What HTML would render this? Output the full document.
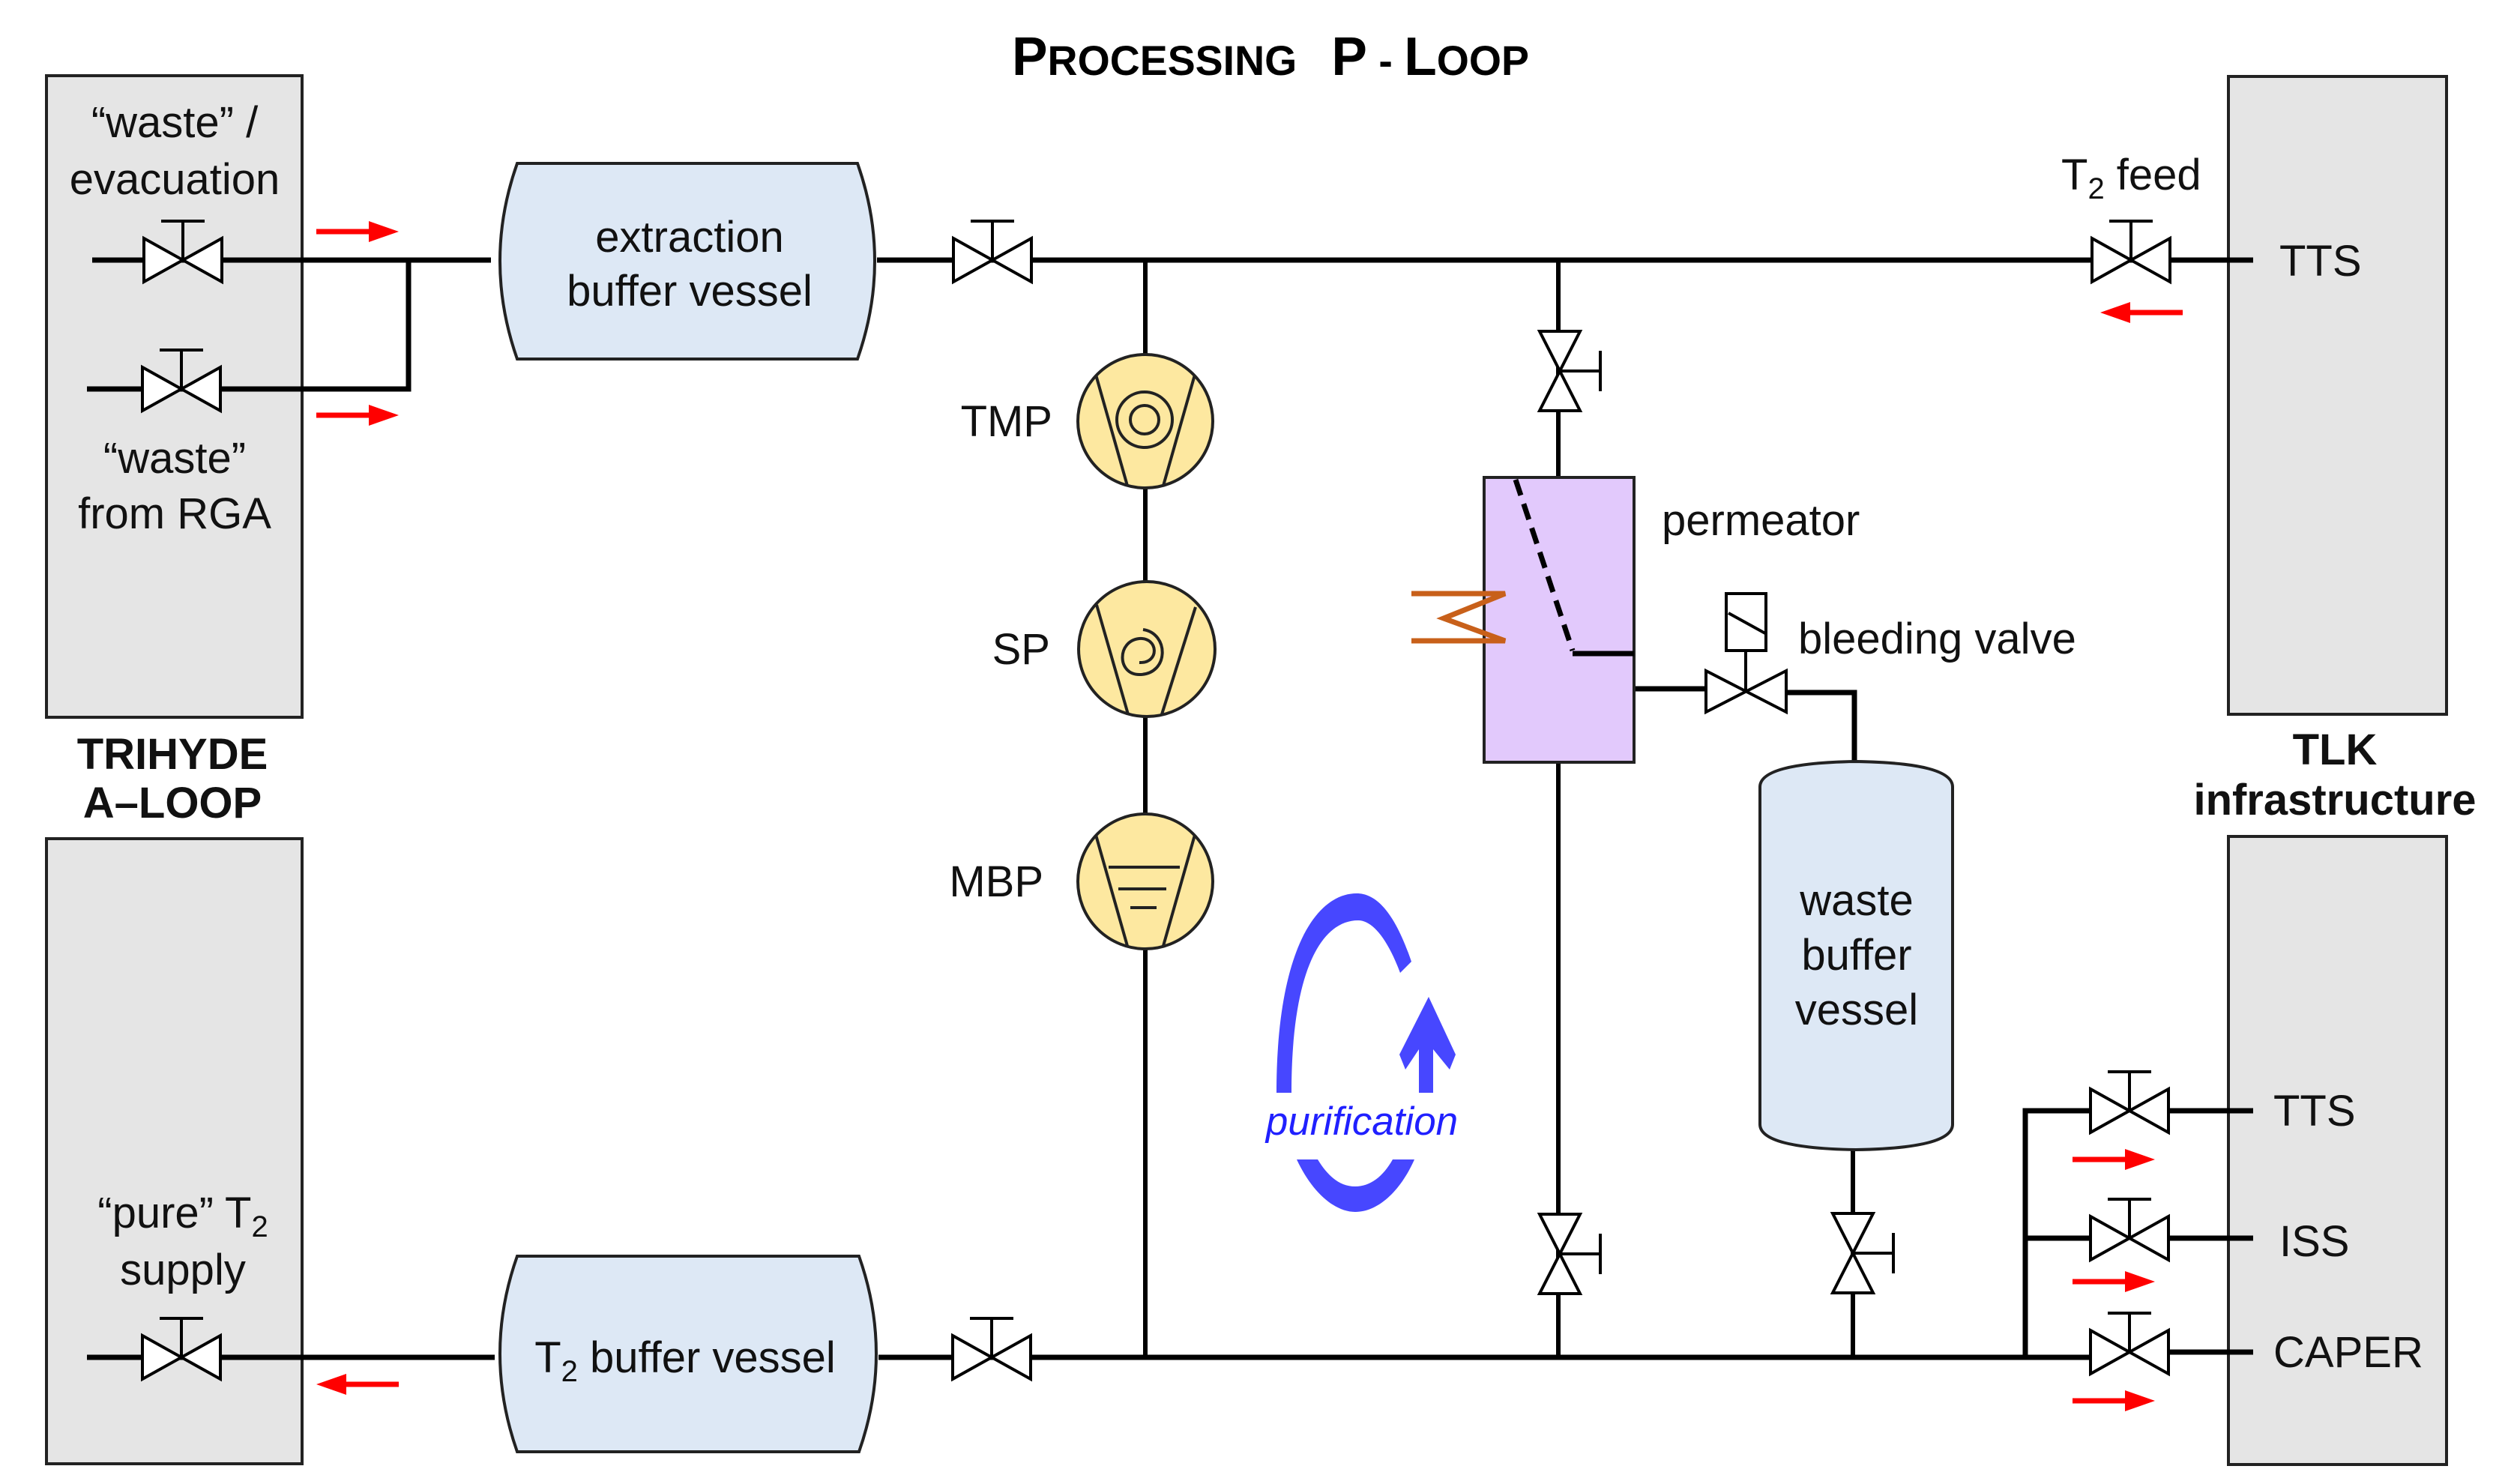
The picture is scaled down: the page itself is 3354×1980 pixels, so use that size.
<!DOCTYPE html>
<html><head><meta charset="utf-8"><style>html,body{margin:0;padding:0;background:#fff}svg{display:block}</style></head>
<body>
<svg width="3354" height="1980" viewBox="0 0 3354 1980" xmlns="http://www.w3.org/2000/svg" font-family="Liberation Sans, Arial, sans-serif">
<defs>
<g id="vh" fill="#fff" stroke="#000" stroke-width="4">
<path d="M-52,-29 L52,29 L52,-29 L-52,29 Z" stroke-linejoin="miter"/>
<line x1="0" y1="0" x2="0" y2="-52"/>
<line x1="-29" y1="-52" x2="29" y2="-52"/>
</g>
<g id="vv" fill="#fff" stroke="#000" stroke-width="4">
<path d="M-27,-53 L27,-53 L-27,53 L27,53 Z"/>
<line x1="0" y1="0" x2="54" y2="0"/>
<line x1="54" y1="-27" x2="54" y2="27"/>
</g>
<g id="arr"><line x1="-55" y1="0" x2="25" y2="0" stroke="#f00" stroke-width="7"/><path d="M15,-14 L55,0 L15,14 Z" fill="#f00"/></g>
</defs>

<rect x="62" y="101" width="341" height="856" fill="#e5e5e5" stroke="#222" stroke-width="4"/>
<rect x="62" y="1119" width="341" height="834" fill="#e5e5e5" stroke="#222" stroke-width="4"/>
<rect x="2973" y="102" width="291" height="851" fill="#e5e5e5" stroke="#222" stroke-width="4"/>
<rect x="2973" y="1116" width="291" height="838" fill="#e5e5e5" stroke="#222" stroke-width="4"/>

<text x="1350" y="100" font-weight="bold" font-size="56" textLength="690" lengthAdjust="spacingAndGlyphs" xml:space="preserve"><tspan font-size="72">P</tspan>ROCESSING   <tspan font-size="72">P</tspan> - <tspan font-size="72">L</tspan>OOP</text>

<g stroke="#000" stroke-width="7" fill="none">
<line x1="123" y1="347" x2="655" y2="347"/>
<polyline points="116,519 545,519 545,347"/>
<line x1="1170" y1="347" x2="3006" y2="347"/>
<line x1="116" y1="1811" x2="660" y2="1811"/>
<line x1="1172" y1="1811" x2="2795" y2="1811"/>
<polyline points="2795,1482 2702,1482 2702,1811"/>
<line x1="2702" y1="1652" x2="2795" y2="1652"/>
<line x1="2880" y1="1482" x2="3006" y2="1482"/>
<line x1="2880" y1="1652" x2="3006" y2="1652"/>
<line x1="2880" y1="1804" x2="3006" y2="1804"/>
<line x1="2180" y1="919" x2="2276" y2="919"/>
<polyline points="2383,924 2474,924 2474,1020"/>
</g>
<g stroke="#000" stroke-width="6" fill="none">
<line x1="1528" y1="347" x2="1528" y2="1811"/>
<line x1="2079" y1="347" x2="2079" y2="1811"/>
<line x1="2472" y1="1530" x2="2472" y2="1811"/>
</g>

<use href="#vh" x="244" y="347"/>
<use href="#vh" x="242" y="519"/>
<use href="#vh" x="1324" y="347"/>
<use href="#vh" x="2843" y="347"/>
<use href="#vh" x="242" y="1811"/>
<use href="#vh" x="1323" y="1811"/>
<use href="#vh" x="2841" y="1482"/>
<use href="#vh" x="2841" y="1652"/>
<use href="#vh" x="2841" y="1804"/>
<use href="#vv" x="2081" y="495"/>
<use href="#vv" x="2081" y="1673"/>
<use href="#vv" x="2472" y="1672"/>
<g fill="#fff" stroke="#000" stroke-width="4">
<path d="M2276,895 L2383,950 L2383,895 L2276,950 Z"/>
<line x1="2329" y1="922" x2="2329" y2="868"/>
<rect x="2303" y="792" width="53" height="76"/>
<line x1="2306" y1="818" x2="2355" y2="845"/>
</g>

<use href="#arr" x="477" y="309"/>
<use href="#arr" x="477" y="554"/>
<use href="#arr" x="477" y="1847" transform="rotate(180 477 1847)"/>
<use href="#arr" x="2857" y="417" transform="rotate(180 2857 417)"/>
<use href="#arr" x="2820" y="1547"/>
<use href="#arr" x="2820" y="1710"/>
<use href="#arr" x="2820" y="1869"/>

<path d="M690,218 L1144,218 Q1190,348 1144,479 L690,479 Q644,348 690,218 Z" fill="#dde8f5" stroke="#222" stroke-width="4"/>
<path d="M690,1676 L1146,1676 Q1192,1806 1146,1937 L690,1937 Q644,1806 690,1676 Z" fill="#dde8f5" stroke="#222" stroke-width="4"/>
<path d="M2348,1050 Q2348,1018 2476,1016 Q2605,1018 2605,1050 L2605,1500 Q2605,1532 2476,1534 Q2348,1532 2348,1500 Z" fill="#dde8f5" stroke="#222" stroke-width="4"/>

<rect x="1980" y="637" width="200" height="380" fill="#e2c9fc" stroke="#222" stroke-width="4"/>
<line x1="2022" y1="640" x2="2098" y2="868" stroke="#000" stroke-width="7" stroke-dasharray="22,12"/>
<line x1="2098" y1="872" x2="2180" y2="872" stroke="#000" stroke-width="7"/>
<polyline points="1883,792 2008,792 1926,825 2008,855 1883,855" fill="none" stroke="#c8601a" stroke-width="7"/>

<g stroke="#222" stroke-width="4">
<ellipse cx="1528" cy="562" rx="90" ry="89" fill="#fde8a0"/>
<ellipse cx="1530" cy="866" rx="91" ry="90" fill="#fde8a0"/>
<ellipse cx="1528" cy="1176" rx="90" ry="90" fill="#fde8a0"/>
</g>
<g stroke="#222" stroke-width="4" fill="none">
<line x1="1462" y1="500" x2="1504" y2="648"/><line x1="1594" y1="500" x2="1552" y2="648"/>
<circle cx="1527" cy="560" r="37"/><circle cx="1527" cy="560" r="19"/>
<line x1="1463" y1="807" x2="1505" y2="953"/><line x1="1595" y1="810" x2="1550" y2="953"/>
<path d="M1525,840 C1560,845 1560,900 1520,900 C1490,900 1490,855 1520,852 C1545,850 1548,885 1520,884"/>
<line x1="1462" y1="1114" x2="1504" y2="1262"/><line x1="1594" y1="1114" x2="1552" y2="1262"/>
<line x1="1479" y1="1157" x2="1574" y2="1157"/><line x1="1492" y1="1186" x2="1556" y2="1186"/><line x1="1508" y1="1211" x2="1543" y2="1211"/>
</g>

<path d="M1883,1283 C1860,1215 1835,1192 1810,1192 C1755,1192 1703,1270 1703,1458 L1723,1458 C1723,1290 1765,1228 1812,1228 C1830,1228 1850,1250 1868,1298 Z" fill="#4747ff"/>
<path d="M1730,1547 C1750,1590 1780,1617 1808,1617 C1838,1617 1868,1590 1887,1547 L1858,1547 C1845,1570 1828,1583 1808,1583 C1788,1583 1772,1570 1758,1547 Z" fill="#4747ff"/>
<path d="M1893,1458 L1893,1400 L1875,1427 L1867,1407 L1906,1330 L1942,1407 L1934,1427 L1912,1400 L1912,1458 Z" fill="#4747ff"/>
<text x="1817" y="1514" font-size="53" font-style="italic" fill="#2020ff" text-anchor="middle">purification</text>

<g font-size="58" fill="#111" text-anchor="middle">
<text x="233" y="183">“waste” /</text>
<text x="233" y="259">evacuation</text>
<text x="233" y="631">“waste”</text>
<text x="233" y="705">from RGA</text>
<text x="244" y="1638">“pure” T<tspan font-size="40" dy="12">2</tspan></text>
<text x="244" y="1714">supply</text>
<text x="920" y="336">extraction</text>
<text x="920" y="408">buffer vessel</text>
<text x="914" y="1831">T<tspan font-size="40" dy="12">2</tspan><tspan dy="-12"> buffer vessel</tspan></text>
<text x="2477" y="1221">waste</text>
<text x="2477" y="1294">buffer</text>
<text x="2477" y="1367">vessel</text>
</g>
<g font-size="58" fill="#111">
<text x="1404" y="582" text-anchor="end">TMP</text>
<text x="1401" y="886" text-anchor="end">SP</text>
<text x="1392" y="1196" text-anchor="end">MBP</text>
<text x="2750" y="253">T<tspan font-size="40" dy="12">2</tspan><tspan dy="-12"> feed</tspan></text>
<text x="3041" y="368">TTS</text>
<text x="2217" y="714">permeator</text>
<text x="2399" y="872">bleeding valve</text>
<text x="3033" y="1502">TTS</text>
<text x="3041" y="1676">ISS</text>
<text x="3033" y="1824">CAPER</text>
</g>
<g font-size="58" font-weight="bold" fill="#111" text-anchor="middle">
<text x="230" y="1026">TRIHYDE</text>
<text x="230" y="1091">A–LOOP</text>
<text x="3115" y="1020">TLK</text>
<text x="3115" y="1087">infrastructure</text>
</g>
</svg>
</body></html>
